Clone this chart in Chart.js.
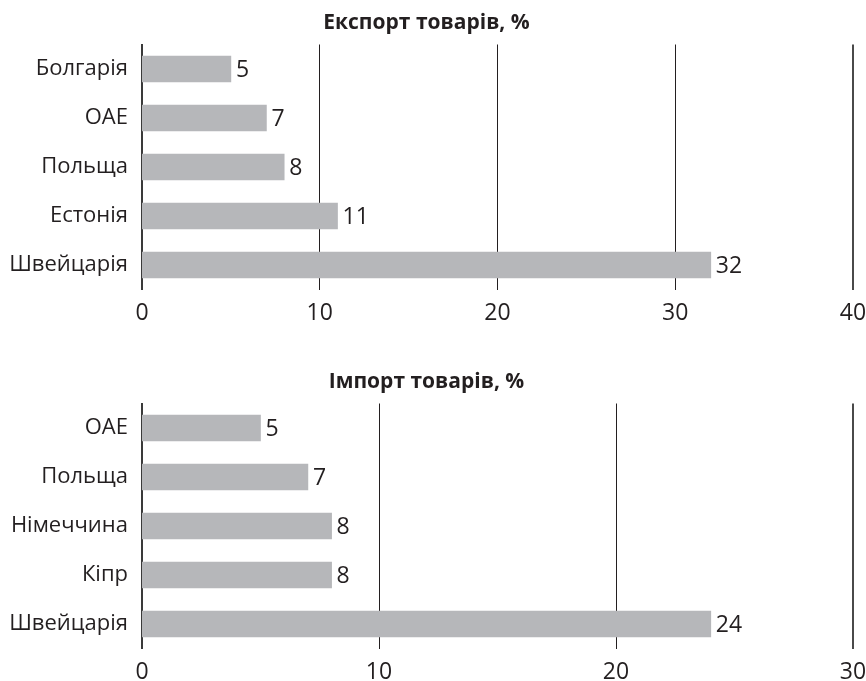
<!DOCTYPE html>
<html><head><meta charset="utf-8">
<script src="https://cdn.jsdelivr.net/npm/chart.js@4.4.1/dist/chart.umd.min.js"></script>
<style>
html,body{margin:0;padding:0;background:#fff;}
canvas{position:absolute;left:0;}
#c1{top:0;}
#c2{top:359px;}
</style></head><body>
<canvas id="c1" width="866" height="322"></canvas>
<canvas id="c2" width="866" height="322"></canvas>
<script>
// ---- data ----
const exportTitle = 'Експорт товарів, %';
const exportCategories = ['Болгарія', 'ОАЕ', 'Польща', 'Естонія', 'Швейцарія'];
const exportValues = [5, 7, 8, 11, 32];
const exportMax = 40;

const importTitle = 'Імпорт товарів, %';
const importCategories = ['ОАЕ', 'Польща', 'Німеччина', 'Кіпр', 'Швейцарія'];
const importValues = [5, 7, 8, 8, 24];
const importMax = 30;

const tickStep = 10;

// ---- style ----
const FONT = "'Open Sans', 'Noto Sans', sans-serif";
const TEXT = '#231f20';
const BAR = '#b6b7ba';
const LABEL_SIZE = 23;
const CAT_SIZE = 22;

const valueLabels = {
  id: 'valueLabels',
  afterDatasetsDraw(chart) {
    const ctx = chart.ctx;
    const meta = chart.getDatasetMeta(0);
    const data = chart.data.datasets[0].data;
    ctx.save();
    ctx.font = LABEL_SIZE + 'px ' + FONT;
    ctx.fillStyle = TEXT;
    ctx.textAlign = 'left';
    ctx.textBaseline = 'middle';
    meta.data.forEach((bar, i) => {
      ctx.fillText(String(data[i]), bar.x + 5, bar.y + 1);
    });
    ctx.restore();
  }
};

function makeChart(id, title, cats, vals, max) {
  return new Chart(document.getElementById(id), {
    type: 'bar',
    data: {
      labels: cats,
      datasets: [{ data: vals, backgroundColor: BAR, borderWidth: 0, barThickness: 26 }]
    },
    options: {
      indexAxis: 'y',
      responsive: false,
      animation: false,
      events: [],
      layout: { padding: { left: 0, right: 13, top: 0, bottom: 0 } },
      plugins: {
        legend: { display: false },
        tooltip: { enabled: false },
        title: {
          display: true,
          text: title,
          color: TEXT,
          font: { family: FONT, size: 21, weight: 'bold' },
          padding: { top: 10, bottom: 9.3 }
        }
      },
      scales: {
        x: {
          type: 'linear',
          min: 0,
          max: max,
          z: 1,
          ticks: { stepSize: tickStep, color: TEXT, font: { family: FONT, size: LABEL_SIZE }, padding: 10, maxRotation: 0 },
          grid: {
            drawTicks: false,
            color: (c) => (c.tick && c.tick.value === max) ? '#4a4a4a' : TEXT,
            lineWidth: (c) => (c.tick && c.tick.value === 0) ? 0 : ((c.tick && c.tick.value === max) ? 2 : 1)
          },
          border: { display: false },
          afterFit: (s) => { s.height = 32.5; s.paddingLeft = 0; s.paddingRight = 0; }
        },
        y: {
          type: 'category',
          z: 1,
          ticks: { color: TEXT, font: { family: FONT, size: CAT_SIZE }, padding: 14 },
          grid: { display: false, drawTicks: false },
          border: { display: true, color: '#3a3a3a', width: 2 },
          afterFit: (s) => { s.width = 142; s.paddingTop = 0; s.paddingBottom = 0; }
        }
      }
    },
    plugins: [valueLabels]
  });
}

makeChart('c1', exportTitle, exportCategories, exportValues, exportMax);
makeChart('c2', importTitle, importCategories, importValues, importMax);
</script>
</body></html>
